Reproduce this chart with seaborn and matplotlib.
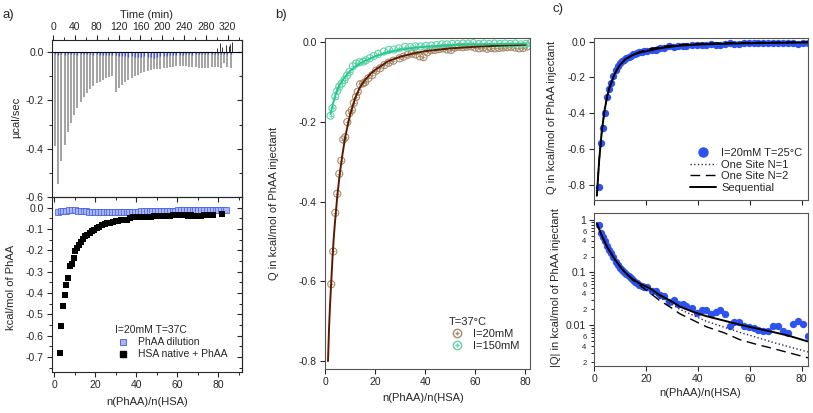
import matplotlib
matplotlib.use("Agg")
import matplotlib.pyplot as plt
import matplotlib.ticker as mticker
from matplotlib.lines import Line2D
import numpy as np
import seaborn as sns

# ---------------- a) raw ITC trace (top) ----------------
inj_time = [3.5, 9.4, 15.2, 21.1, 26.9, 32.8, 38.6, 44.5, 50.3, 56.2,
            62.0, 67.9, 73.7, 79.6, 85.4, 91.3, 97.1, 103.0, 108.8, 114.7,
            120.5, 126.4, 132.2, 138.1, 143.9, 149.8, 155.6, 161.5, 167.3, 173.2,
            179.0, 184.9, 190.7, 196.6, 202.4, 208.3, 214.1, 220.0, 225.8, 231.7,
            237.5, 243.4, 249.2, 255.1, 260.9, 266.8, 272.6, 278.5, 284.3, 290.2,
            296.0, 301.9, 307.7, 313.6, 319.4, 325.3]
inj_peak = [-0.390, -0.545, -0.450, -0.385, -0.330, -0.295, -0.262, -0.232, -0.205, -0.185,
            -0.168, -0.152, -0.140, -0.130, -0.122, -0.115, -0.108, -0.103, -0.098, -0.165,
            -0.150, -0.136, -0.122, -0.114, -0.108, -0.100, -0.094, -0.088, -0.083, -0.079,
            -0.075, -0.072, -0.070, -0.068, -0.066, -0.064, -0.062, -0.060, -0.059, -0.058,
            -0.057, -0.058, -0.060, -0.062, -0.063, -0.064, -0.064, -0.065, -0.064, -0.063,
            -0.062, -0.060, -0.065, -0.045, -0.060, -0.065]
dil_blip = [-0.010, -0.012, -0.010, -0.011, -0.010, -0.009, -0.010, -0.011, -0.010, -0.009,
            -0.010, -0.010, -0.011, -0.010, -0.012, -0.011, -0.012, -0.013, -0.012, -0.014,
            -0.015, -0.016, -0.018, -0.020, -0.018, -0.020, -0.022, -0.020, -0.018, -0.020,
            -0.022, -0.024, -0.020, -0.018, -0.016, -0.015, -0.014, -0.013, -0.012, -0.012,
            -0.011, -0.010, -0.010, -0.011, -0.010, -0.009, -0.010, -0.010, -0.009, -0.010,
            -0.010, -0.009, -0.010, -0.009, -0.010, -0.010]
noise_time = [300.5, 305.0, 309.5, 316.0, 321.5, 324.0, 328.0]
noise_val = [0.015, 0.038, 0.020, 0.030, 0.025, 0.035, 0.040]
time_ticks = [0, 40, 80, 120, 160, 200, 240, 280, 320]

# ---------------- a) integrated heats (bottom) ----------------
hsa_x = [2.8, 3.6, 4.4, 5.2, 6.0, 7.0, 7.8, 8.8, 9.6, 10.2,
         11.2, 12.0, 13.0, 14.0, 15.1, 16.2, 17.3, 18.5, 19.7, 20.9,
         22.1, 23.4, 24.7, 26.0, 27.3, 28.6, 30.0, 31.4, 32.8, 34.2,
         35.6, 37.0, 38.5, 40.0, 41.5, 43.0, 44.5, 46.0, 47.5, 49.0,
         50.5, 52.0, 53.5, 55.0, 56.5, 58.0, 59.5, 61.0, 62.5, 64.0,
         65.5, 67.0, 68.5, 70.0, 71.5, 73.0, 74.5, 76.0, 77.5, 82.0]
hsa_q = [-0.680, -0.555, -0.460, -0.410, -0.360, -0.330, -0.274, -0.266, -0.235, -0.205,
         -0.190, -0.175, -0.160, -0.145, -0.133, -0.128, -0.118, -0.110, -0.104, -0.096,
         -0.090, -0.083, -0.078, -0.074, -0.070, -0.067, -0.064, -0.062, -0.060, -0.058,
         -0.056, -0.050, -0.046, -0.045, -0.044, -0.043, -0.043, -0.042, -0.042, -0.041,
         -0.040, -0.039, -0.038, -0.038, -0.037, -0.036, -0.036, -0.036, -0.035, -0.036,
         -0.037, -0.036, -0.038, -0.038, -0.037, -0.036, -0.036, -0.035, -0.034, -0.029]
dil_x = [1.8, 3.2, 4.6, 6.0, 7.4, 8.8, 10.2, 11.6, 13.0, 14.4,
         15.8, 17.2, 18.6, 20.0, 21.4, 22.8, 24.2, 25.6, 27.0, 28.4,
         29.8, 31.2, 32.6, 34.0, 35.4, 36.8, 38.2, 39.6, 41.0, 42.4,
         43.8, 45.2, 46.6, 48.0, 49.4, 50.8, 52.2, 53.6, 55.0, 56.4,
         57.8, 59.2, 60.6, 62.0, 63.4, 64.8, 66.2, 67.6, 69.0, 70.4,
         71.8, 73.2, 74.6, 76.0, 77.4, 78.8, 80.2, 81.6, 83.0, 84.0]
dil_q = [-0.018, -0.017, -0.016, -0.014, -0.012, -0.012, -0.013, -0.014, -0.015, -0.016,
         -0.017, -0.018, -0.019, -0.020, -0.021, -0.021, -0.022, -0.022, -0.022, -0.021,
         -0.021, -0.021, -0.020, -0.020, -0.019, -0.019, -0.018, -0.018, -0.018, -0.017,
         -0.017, -0.017, -0.016, -0.016, -0.016, -0.016, -0.015, -0.015, -0.015, -0.014,
         -0.014, -0.014, -0.013, -0.013, -0.012, -0.012, -0.012, -0.011, -0.011, -0.012,
         -0.011, -0.011, -0.010, -0.010, -0.011, -0.010, -0.010, -0.010, -0.010, -0.010]

# ---------------- b) T=37C, two ionic strengths ----------------
b20_x = [2.5, 3.3, 4.1, 4.9, 5.7, 6.5, 7.3, 8.1, 8.9, 9.7,
         10.7, 11.5, 12.4, 13.1, 14.0, 15.2, 16.0, 17.3, 18.9, 20.4,
         22.0, 23.7, 25.4, 27.3, 29.7, 31.3, 33.0, 34.6, 36.2, 37.8,
         39.3, 40.8, 42.3, 43.9, 45.5, 47.1, 48.7, 50.3, 51.9, 53.5,
         55.1, 56.7, 58.3, 59.9, 61.5, 63.1, 64.7, 66.3, 67.9, 69.5,
         71.1, 72.7, 74.3, 75.9, 77.5, 79.1, 80.7]
b20_q = [-0.607, -0.525, -0.428, -0.380, -0.330, -0.297, -0.244, -0.238, -0.200, -0.178,
         -0.170, -0.152, -0.137, -0.124, -0.105, -0.103, -0.100, -0.090, -0.082, -0.071,
         -0.065, -0.057, -0.051, -0.046, -0.040, -0.036, -0.031, -0.028, -0.030, -0.035,
         -0.037, -0.025, -0.020, -0.019, -0.017, -0.015, -0.018, -0.019, -0.013, -0.011,
         -0.012, -0.011, -0.010, -0.013, -0.015, -0.013, -0.016, -0.014, -0.015, -0.014,
         -0.013, -0.012, -0.011, -0.013, -0.015, -0.014, -0.010]
b20_fit_x = [1.2, 1.6, 2, 2.5, 3, 3.5, 4, 5, 6, 7, 8, 9, 10, 12, 14, 16, 18, 20,
             25, 30, 35, 40, 50, 60, 70, 80]
b20_fit_q = [-0.80, -0.72, -0.66, -0.60, -0.54, -0.49, -0.45, -0.38, -0.325, -0.28,
             -0.24, -0.21, -0.182, -0.14, -0.112, -0.094, -0.08, -0.069,
             -0.048, -0.036, -0.028, -0.022, -0.015, -0.011, -0.008, -0.006]
b150_x = [2.2, 3.0, 4.1, 4.9, 5.7, 6.7, 7.8, 8.8, 9.8, 11.1,
          12.4, 13.7, 15.3, 16.3, 17.8, 19.5, 21.2, 23.5, 25.5, 27.5,
          29.5, 31.9, 34.0, 36.1, 38.2, 40.3, 42.4, 44.5, 46.6, 48.7,
          50.8, 52.9, 55.0, 57.1, 59.2, 61.3, 63.4, 65.5, 67.6, 69.7,
          71.8, 73.9, 76.0, 78.1, 80.2, 82.0]
b150_q = [-0.184, -0.165, -0.136, -0.122, -0.111, -0.103, -0.094, -0.083, -0.074, -0.060,
          -0.053, -0.050, -0.048, -0.045, -0.040, -0.034, -0.029, -0.023, -0.019, -0.018,
          -0.015, -0.011, -0.012, -0.010, -0.010, -0.009, -0.008, -0.007, -0.005, -0.005,
          -0.004, -0.004, -0.003, -0.003, -0.002, -0.004, -0.003, -0.004, -0.003, -0.004,
          -0.003, -0.004, -0.003, -0.005, -0.004, -0.002]
b150_fit_x = [2.2, 3, 4, 5, 6, 7, 8, 10, 12, 15, 20, 25, 30, 40, 50, 60, 70, 80]
b150_fit_q = [-0.180, -0.158, -0.135, -0.118, -0.105, -0.095, -0.086, -0.072, -0.061,
              -0.049, -0.035, -0.025, -0.018, -0.011, -0.007, -0.005, -0.004, -0.003]

# ---------------- c) T=25C with three binding models ----------------
c_x = [1.8, 2.6, 3.5, 4.4, 5.1, 5.9, 6.7, 7.5, 8.4, 9.2,
       10.0, 10.9, 11.7, 12.5, 13.4, 14.2, 15.0, 15.9, 16.7, 17.5,
       18.4, 19.2, 20.5, 22.4, 23.7, 25.3, 26.9, 28.9, 30.7, 32.4,
       34.1, 35.6, 37.6, 39.5, 41.4, 43.1, 44.9, 46.8, 48.5, 50.4,
       52.3, 54.0, 55.9, 57.7, 59.6, 61.5, 63.3, 65.2, 67.1, 69.1,
       70.7, 72.7, 74.6, 76.5, 78.5, 80.4, 82.3]
c_absq = [0.810, 0.565, 0.480, 0.400, 0.312, 0.263, 0.230, 0.193, 0.160, 0.137,
          0.122, 0.110, 0.100, 0.092, 0.085, 0.079, 0.072, 0.067, 0.062, 0.059,
          0.056, 0.053, 0.052, 0.045, 0.045, 0.038, 0.036, 0.027, 0.030, 0.025,
          0.025, 0.023, 0.021, 0.017, 0.019, 0.019, 0.016, 0.018, 0.019, 0.016,
          0.0096, 0.0117, 0.0114, 0.0096, 0.0093, 0.0089, 0.0081, 0.0078, 0.0078, 0.0096,
          0.0096, 0.0078, 0.0070, 0.0103, 0.0121, 0.0103, 0.0062]
fit_x = [1.1, 2, 3, 4, 5, 6, 8, 10, 12, 15, 18, 21.5, 25, 30, 33, 38, 43.3,
         50, 56.2, 62, 69, 75, 82.4]
fit_seq = [0.86, 0.66, 0.50, 0.39, 0.31, 0.255, 0.178, 0.13, 0.10, 0.074, 0.06, 0.05,
           0.038, 0.028, 0.0225, 0.018, 0.0148, 0.0122, 0.0102, 0.0088, 0.0074, 0.0063, 0.0049]
fit_one1 = [0.86, 0.66, 0.50, 0.39, 0.31, 0.255, 0.178, 0.13, 0.099, 0.072, 0.057, 0.044,
            0.034, 0.025, 0.020, 0.0155, 0.0118, 0.0092, 0.0073, 0.006, 0.0047, 0.0039, 0.0031]
fit_one2 = [0.86, 0.66, 0.50, 0.39, 0.31, 0.255, 0.178, 0.13, 0.098, 0.071, 0.055, 0.041,
            0.030, 0.021, 0.0165, 0.0125, 0.0093, 0.0072, 0.0053, 0.0044, 0.0036, 0.0030, 0.0024]

ratio_ticks = [0, 20, 40, 60, 80]

# ==========================================
# style
# ==========================================
sns.set_theme(style="ticks")
plt.rcParams["font.family"] = ["Liberation Sans", "DejaVu Sans"]
plt.rcParams["axes.unicode_minus"] = False
plt.rcParams.update({
    "axes.linewidth": 0.8,
    "xtick.labelsize": 7.5, "ytick.labelsize": 7.5,
    "xtick.major.size": 3.5, "ytick.major.size": 3.5,
    "xtick.minor.size": 2.0, "ytick.minor.size": 2.0,
    "xtick.major.width": 0.8, "ytick.major.width": 0.8,
    "xtick.minor.width": 0.7, "ytick.minor.width": 0.7,
    "xtick.major.pad": 2.5, "ytick.major.pad": 2.5,
    "axes.labelsize": 8,
})

W, H = 813, 413


def px_box(left, top, right, bottom):
    return [left / W, 1 - bottom / H, (right - left) / W, (bottom - top) / H]


fig = plt.figure(figsize=(W / 100, H / 100), dpi=100)
fmt1 = mticker.FormatStrFormatter("%.1f")

# ---------------- a) top ----------------
ax = fig.add_axes(px_box(52, 40, 242, 197))
ax.vlines(inj_time, inj_peak, 0, color="#8a8a8a", lw=1.1)
ax.vlines(inj_time, dil_blip, 0, color="#3a55e8", lw=0.9)
ax.vlines(noise_time, 0, noise_val, color="#333333", lw=0.7)
ax.axhline(0, color="black", lw=0.8)
ax.set_xlim(-2, 346)
ax.set_ylim(-0.6, 0.05)
ax.xaxis.tick_top()
ax.xaxis.set_label_position("top")
ax.set_xticks(time_ticks)
ax.xaxis.set_minor_locator(mticker.MultipleLocator(20))
ax.tick_params(axis="x", which="both", direction="out", top=True, bottom=False)
ax.set_yticks([-0.6, -0.4, -0.2, 0.0])
ax.yaxis.set_major_formatter(fmt1)
ax.yaxis.set_minor_locator(mticker.MultipleLocator(0.1))
ax.tick_params(axis="y", which="both", direction="out", right=False)
ax.spines["bottom"].set_visible(False)
sec = ax.secondary_yaxis("right")
sec.set_ticks([-0.6, -0.4, -0.2, 0.0])
sec.yaxis.set_minor_locator(mticker.MultipleLocator(0.1))
sec.tick_params(axis="y", which="both", direction="in", labelright=False)
ax.set_xlabel("Time (min)")
ax.xaxis.set_label_coords(0.5, 1.14)
ax.set_ylabel("µcal/sec")
ax.yaxis.set_label_coords(-0.163, 0.51)

# ---------------- a) bottom ----------------
ax2 = fig.add_axes(px_box(52, 197, 242, 372))
sns.scatterplot(x=dil_x, y=dil_q, marker="s", s=14, color="#aab4f2",
                edgecolor="#3d5ae0", linewidth=0.5, ax=ax2)
sns.scatterplot(x=hsa_x, y=hsa_q, marker="s", s=16, color="black",
                linewidth=0, ax=ax2)
ax2.set_xlim(-1, 91.7)
ax2.set_ylim(-0.77, 0.05)
ax2.set_xticks(ratio_ticks)
ax2.xaxis.set_minor_locator(mticker.MultipleLocator(10))
ax2.set_yticks([-0.7, -0.6, -0.5, -0.4, -0.3, -0.2, -0.1, 0.0])
ax2.yaxis.set_major_formatter(fmt1)
ax2.yaxis.set_minor_locator(mticker.MultipleLocator(0.05))
ax2.tick_params(axis="x", which="both", direction="out", top=False)
ax2.tick_params(axis="y", which="both", direction="out", right=False)
secx = ax2.secondary_xaxis("top")
secx.set_ticks(ratio_ticks)
secx.xaxis.set_minor_locator(mticker.MultipleLocator(10))
secx.tick_params(axis="x", which="both", direction="in", labeltop=False)
secy = ax2.secondary_yaxis("right")
secy.set_ticks([-0.7, -0.6, -0.5, -0.4, -0.3, -0.2, -0.1, 0.0])
secy.yaxis.set_minor_locator(mticker.MultipleLocator(0.05))
secy.tick_params(axis="y", which="both", direction="in", labelright=False)
ax2.set_xlabel("n(PhAA)/n(HSA)")
ax2.xaxis.set_label_coords(0.5, -0.143)
ax2.set_ylabel("kcal/mol of PhAA")
ax2.yaxis.set_label_coords(-0.187, 0.486)
a_handles = [Line2D([], [], marker="s", ls="", mfc="#aab4f2", mec="#3d5ae0", mew=0.6, ms=5),
             Line2D([], [], marker="s", ls="", color="black", ms=4.5)]
ax2.legend(a_handles, ["PhAA dilution", "HSA native + PhAA"], title="I=20mM T=37C",
           loc="lower right", bbox_to_anchor=(0.96, 0.03), frameon=False,
           fontsize=7.5, title_fontsize=7.5, alignment="left",
           handlelength=1.6, handletextpad=0.6, labelspacing=0.2, borderpad=0.2)

# ---------------- b) ----------------
brown_m, brown_l = "#a58a6a", "#5c1a00"
green_m, green_l = "#5fd3a6", "#22c993"
ax3 = fig.add_axes(px_box(325, 38, 530, 369))
for xs, ys, col in [(b20_x, b20_q, brown_m), (b150_x, b150_q, green_m)]:
    sns.scatterplot(x=xs, y=ys, color=col, s=26, linewidth=0.8, ax=ax3)
    ax3.collections[-1].set_facecolor("none")
    ax3.collections[-1].set_edgecolor(col)
    sns.scatterplot(x=xs, y=ys, marker="+", color=col, s=6, linewidth=0.6, ax=ax3)
sns.lineplot(x=b20_fit_x, y=b20_fit_q, color=brown_l, lw=1.4, sort=False,
             estimator=None, ax=ax3)
sns.lineplot(x=b150_fit_x, y=b150_fit_q, color=green_l, lw=1.4, sort=False,
             estimator=None, ax=ax3)
ax3.set_xlim(0, 81.8)
ax3.set_ylim(-0.82, 0.011)
ax3.set_xticks(ratio_ticks)
ax3.set_yticks([-0.8, -0.6, -0.4, -0.2, 0.0])
ax3.yaxis.set_major_formatter(fmt1)
ax3.tick_params(direction="out", top=False, right=False)
ax3.set_xlabel("n(PhAA)/n(HSA)")
ax3.xaxis.set_label_coords(0.48, -0.072)
ax3.set_ylabel("Q in kcal/mol of PhAA injectant")
ax3.yaxis.set_label_coords(-0.222, 0.5)
b_handles = [(Line2D([], [], marker="o", ls="", mfc="none", mec=brown_m, ms=6),
              Line2D([], [], marker="+", ls="", color=brown_m, ms=3)),
             (Line2D([], [], marker="o", ls="", mfc="none", mec=green_m, ms=6),
              Line2D([], [], marker="+", ls="", color=green_m, ms=3))]
ax3.legend(b_handles, ["I=20mM", "I=150mM"], title="T=37°C", loc="lower right",
           bbox_to_anchor=(0.985, 0.03), frameon=False, fontsize=8, title_fontsize=8,
           alignment="left", handlelength=1.6, handletextpad=0.6, labelspacing=0.2,
           borderpad=0.2)

# ---------------- c) top ----------------
blue = "#2d52f2"
dot_col = "#2a2a55"
ax4 = fig.add_axes(px_box(594, 38, 808, 200))
sns.scatterplot(x=c_x, y=-np.array(c_absq), color=blue, s=28, linewidth=0, ax=ax4)
sns.lineplot(x=fit_x, y=-np.array(fit_one1), color=dot_col, lw=1.0, ls=":",
             sort=False, estimator=None, ax=ax4)
sns.lineplot(x=fit_x, y=-np.array(fit_one2), color="black", lw=1.0,
             sort=False, estimator=None, ax=ax4)
ax4.lines[-1].set_dashes((7, 4))
sns.lineplot(x=fit_x, y=-np.array(fit_seq), color="black", lw=1.4,
             sort=False, estimator=None, ax=ax4)
ax4.set_xlim(0, 82.4)
ax4.set_ylim(-0.884, 0.02)
ax4.set_xticks(ratio_ticks)
ax4.set_xticklabels([])
ax4.set_yticks([-0.8, -0.6, -0.4, -0.2, 0.0])
ax4.yaxis.set_major_formatter(fmt1)
ax4.tick_params(direction="out", top=False, right=False)
ax4.set_ylabel("Q in kcal/mol of PhAA injectant")
ax4.yaxis.set_label_coords(-0.175, 0.51)
c_handles = [Line2D([], [], marker="o", ls="", color=blue, ms=6.5),
             Line2D([], [], color=dot_col, ls=":", lw=1.0),
             Line2D([], [], color="black", ls=(0, (7, 4)), lw=1.0),
             Line2D([], [], color="black", lw=1.4)]
ax4.legend(c_handles, ["I=20mM T=25°C", "One Site N=1", "One Site N=2", "Sequential"],
           loc="lower right", bbox_to_anchor=(1.01, -0.005), frameon=False, fontsize=8,
           handlelength=2.3, handletextpad=0.5, labelspacing=0.15, borderpad=0.2)

# ---------------- c) bottom (log) ----------------
ax5 = fig.add_axes(px_box(594, 213, 808, 366))
ax5.set_yscale("log")
sns.scatterplot(x=c_x, y=c_absq, color=blue, s=28, linewidth=0, ax=ax5)
sns.lineplot(x=fit_x, y=fit_one1, color=dot_col, lw=1.0, ls=":",
             sort=False, estimator=None, ax=ax5)
sns.lineplot(x=fit_x, y=fit_one2, color="black", lw=1.0,
             sort=False, estimator=None, ax=ax5)
ax5.lines[-1].set_dashes((7, 4))
sns.lineplot(x=fit_x, y=fit_seq, color="black", lw=1.4,
             sort=False, estimator=None, ax=ax5)
ax5.set_xlim(0, 82.4)
ax5.set_ylim(0.00168, 1.34)
ax5.set_xticks(ratio_ticks)
ax5.yaxis.set_major_locator(mticker.LogLocator(base=10, numticks=10))
ax5.yaxis.set_major_formatter(mticker.FuncFormatter(lambda v, p: f"{v:g}"))
ax5.yaxis.set_minor_locator(mticker.LogLocator(base=10, subs=(2, 3, 4, 5, 6, 7, 8, 9), numticks=20))


def minor_label(v, pos):
    mant = int(round(v / 10 ** np.floor(np.log10(v) + 1e-9)))
    return str(mant) if mant in (2, 4, 6) else ""


ax5.yaxis.set_minor_formatter(mticker.FuncFormatter(minor_label))
ax5.tick_params(axis="y", which="minor", labelsize=5.5, length=2)
ax5.tick_params(direction="out", top=False, right=False)
ax5.set_xlabel("n(PhAA)/n(HSA)")
ax5.xaxis.set_label_coords(0.495, -0.144)
ax5.set_ylabel("|Q| in kcal/mol of PhAA injectant")
ax5.yaxis.set_label_coords(-0.152, 0.51)

for a in (ax3, ax4, ax5):
    for s in a.spines.values():
        s.set_color("#555555")
        s.set_visible(True)

fig.text(2 / W, 1 - 15 / H, "a)", fontsize=9.5, va="center")
fig.text(275 / W, 1 - 15 / H, "b)", fontsize=9.5, va="center")
fig.text(552 / W, 1 - 9 / H, "c)", fontsize=9.5, va="center")

fig.savefig("out.png", dpi=100)
